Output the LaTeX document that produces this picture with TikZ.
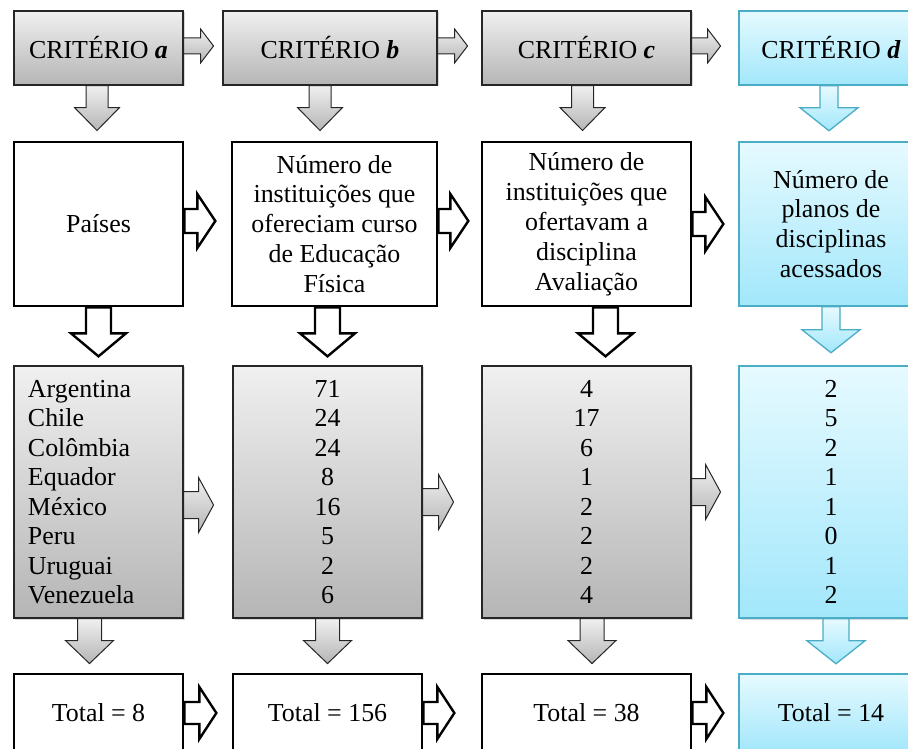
\documentclass[tikz,border=0pt]{standalone}
\usepackage{fontspec}
\setmainfont{Liberation Serif}
\usetikzlibrary{positioning, calc, shadows}

\definecolor{greytop}{HTML}{F0F0F0}
\definecolor{greybot}{HTML}{B5B5B5}
\definecolor{bluetop}{HTML}{E6FAFF}
\definecolor{bluebot}{HTML}{A2E7FB}
\definecolor{blueline}{HTML}{4BACC6}

\tikzstyle{box} = [draw, inner sep=0pt, align=center, font=\fontsize{26}{30}\selectfont]
\tikzstyle{greybox} = [box, draw=black!85, line width=1.1bp, top color=greytop, bottom color=greybot,
    drop shadow={shadow xshift=1.5bp, shadow yshift=-1.5bp, opacity=0.3}]
\tikzstyle{whitebox} = [box, line width=2.7bp, fill=white]
\tikzstyle{bluebox} = [box, draw=blueline, line width=1.5bp, top color=bluetop, bottom color=bluebot,
    drop shadow={shadow xshift=1.5bp, shadow yshift=-1.5bp, opacity=0.3}]
\tikzstyle{greyarr} = [draw=black!85, line width=1bp, top color=greytop, bottom color=greybot, line join=miter]
\tikzstyle{whitearr} = [draw=black, line width=2.4bp, fill=white, line join=miter]
\tikzstyle{bluearr} = [draw=blueline, line width=1.3bp, top color=bluetop, bottom color=bluebot, line join=miter]

% block arrow to the right: [yshift]{style}{node}{length}{shaft}{head}{head length}
\newcommand{\rblock}[7][0]{%
  \draw[#2, shift={($(#3.east)+(0,#1)$)}] (0,-#5/2) -- (#4-#7,-#5/2) -- (#4-#7,-#6/2) -- (#4,0)
    -- (#4-#7,#6/2) -- (#4-#7,#5/2) -- (0,#5/2) -- cycle;}
% block arrow downwards: [xshift]{style}{node}{length}{shaft}{head}{head length}
\newcommand{\dblock}[7][0]{%
  \draw[#2, shift={($(#3.south)+(#1,0)$)}] (-#5/2,0) -- (-#5/2,-#4+#7) -- (-#6/2,-#4+#7) -- (0,-#4)
    -- (#6/2,-#4+#7) -- (#5/2,-#4+#7) -- (#5/2,0) -- cycle;}

\begin{document}
\begin{tikzpicture}[x=1bp, y=1bp, on grid]
    \useasboundingbox (0,0) rectangle (908,749);

    % criterios
    \node[greybox, minimum width=169bp, minimum height=74bp] (ca) at (98.5,701) {CRITÉRIO \textbf{\textit{a}}};
    \node[greybox, minimum width=214bp, minimum height=74bp] (cb) [right=231.5bp of ca] {CRITÉRIO \textbf{\textit{b}}};
    \node[greybox, minimum width=209bp, minimum height=74bp] (cc) [right=256.5bp of cb] {CRITÉRIO \textbf{\textit{c}}};
    \node[bluebox, minimum width=184bp, minimum height=74bp] (cd) [right=244.5bp of cc] {CRITÉRIO \textbf{\textit{d}}};

    % descricao
    \node[whitebox, minimum width=169bp, minimum height=164bp] (pa) [below=176bp of ca] {Países};
    \node[whitebox, minimum width=205bp, minimum height=164bp] (pb) [right=236bp of pa]
        {Número de\\instituições que\\ofereciam curso\\de Educação\\Física};
    \node[whitebox, minimum width=209bp, minimum height=164bp] (pc) [right=252bp of pb]
        {Número de\\instituições que\\ofertavam a\\disciplina\\Avaliação};
    \node[bluebox, minimum width=184bp, minimum height=164bp] (pd) [right=244.5bp of pc]
        {Número de\\planos de\\disciplinas\\acessados};

    % listas
    \node[greybox, font=\fontsize{26}{29.6}\selectfont, text width=141bp, align=left, inner xsep=14bp,
        minimum height=252bp] (la) [below=268bp of pa]
        {Argentina\\Chile\\Colômbia\\Equador\\México\\Peru\\Uruguai\\Venezuela};
    \node[greybox, font=\fontsize{26}{29.6}\selectfont, minimum width=189bp, minimum height=252bp] (lb) [right=229bp of la]
        {71\\24\\24\\8\\16\\5\\2\\6};
    \node[greybox, font=\fontsize{26}{29.6}\selectfont, minimum width=209bp, minimum height=252bp] (lc) [right=259bp of lb]
        {4\\17\\6\\1\\2\\2\\2\\4};
    \node[bluebox, font=\fontsize{26}{29.6}\selectfont, minimum width=184bp, minimum height=252bp] (ld) [right=244.5bp of lc]
        {2\\5\\2\\1\\1\\0\\1\\2};

    % totais
    \node[whitebox, minimum width=169bp, minimum height=78bp] (ta) [below=221bp of la] {Total = 8};
    \node[whitebox, minimum width=189bp, minimum height=78bp] (tb) [right=229bp of ta] {Total = 156};
    \node[whitebox, minimum width=209bp, minimum height=78bp] (tc) [right=259bp of tb] {Total = 38};
    \node[bluebox, minimum width=184bp, minimum height=78bp] (td) [right=244.5bp of tc] {Total = 14};

    % setas horizontais
    \rblock[2]{greyarr}{ca}{30}{16}{34}{13}
    \rblock[2]{greyarr}{cb}{30}{16}{34}{13}
    \rblock[2]{greyarr}{cc}{29}{16}{34}{13}
    \rblock[3]{whitearr}{pa}{31}{24}{54}{18}
    \rblock[3]{whitearr}{pb}{30}{24}{54}{18}
    \rblock{whitearr}{pc}{31}{24}{54}{18}
    \rblock[-13]{greyarr}{la}{30}{27}{55}{15}
    \rblock[-10]{greyarr}{lb}{31}{27}{55}{15}
    \rblock{greyarr}{lc}{29}{27}{55}{15}
    \rblock{whitearr}{ta}{32}{22}{52}{17}
    \rblock{whitearr}{tb}{31}{22}{52}{17}
    \rblock{whitearr}{tc}{31}{22}{52}{17}

    % setas verticais
    \dblock[-1.5]{greyarr}{ca}{45}{22}{45}{23}
    \dblock[-10]{greyarr}{cb}{45}{22}{45}{23}
    \dblock[-4]{greyarr}{cc}{45}{22}{45}{23}
    \dblock[-2]{bluearr}{cd}{45}{18}{58}{23}
    \dblock{whitearr}{pa}{49}{25}{55}{23}
    \dblock[-7]{whitearr}{pb}{49}{25}{55}{23}
    \dblock[19]{whitearr}{pc}{49}{25}{55}{23}
    \dblock{bluearr}{pd}{46}{18}{58}{23}
    \dblock[-9]{greyarr}{la}{45}{24}{48}{23}
    \dblock{greyarr}{lb}{45}{24}{48}{23}
    \dblock[5.5]{greyarr}{lc}{45}{24}{48}{23}
    \dblock[5]{bluearr}{ld}{45}{26}{58}{23}
\end{tikzpicture}
\end{document}
